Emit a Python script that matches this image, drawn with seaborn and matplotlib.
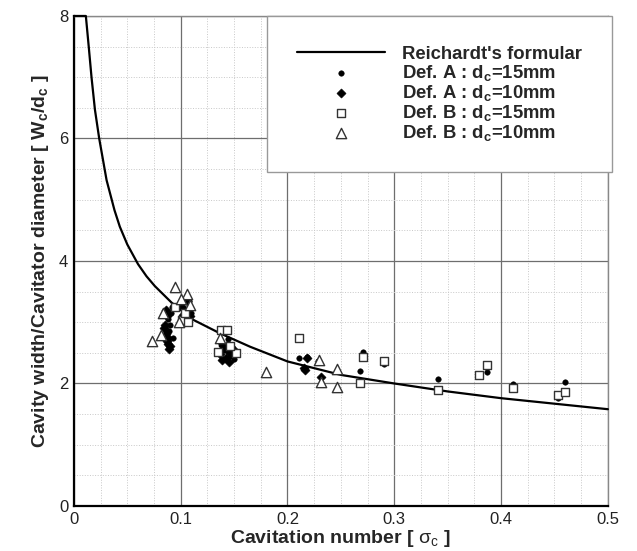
import numpy as np
import pandas as pd
import matplotlib
matplotlib.use("Agg")
import matplotlib.pyplot as plt
from matplotlib.ticker import MultipleLocator
import seaborn as sns

# Reichardt curve
curve_sigma = [0.0, 0.0112, 0.014, 0.0165, 0.0197, 0.0237, 0.0306, 0.038, 0.043, 0.050,
               0.060, 0.068, 0.0758, 0.0915, 0.1117, 0.1367, 0.165, 0.200, 0.250,
               0.300, 0.350, 0.400, 0.450, 0.500]
curve_ratio = [8.0, 8.0, 7.48, 7.0, 6.47, 6.0, 5.32, 4.83, 4.56, 4.27,
               3.95, 3.75, 3.59, 3.32, 3.04, 2.82, 2.60, 2.36, 2.14,
               2.00, 1.87, 1.76, 1.67, 1.58]

# Def. A, dc = 15mm (filled circles)
a15_sigma = [0.088, 0.090, 0.091, 0.089, 0.092, 0.093, 0.100, 0.103, 0.105, 0.108, 0.110,
             0.138, 0.141, 0.144, 0.146, 0.148, 0.150, 0.211, 0.218, 0.229, 0.268, 0.271,
             0.290, 0.3405, 0.3795, 0.387, 0.4114, 0.4535, 0.4597]
a15_ratio = [3.05, 2.95, 3.15, 2.85, 3.25, 2.75, 3.30, 3.20, 3.10, 3.35, 3.15,
             2.65, 2.55, 2.72, 2.45, 2.60, 2.40, 2.41, 2.44, 2.36, 2.21, 2.52,
             2.31, 2.07, 2.13, 2.18, 1.99, 1.77, 2.02]

# Def. A, dc = 10mm (filled diamonds)
a10_sigma = [0.085, 0.086, 0.087, 0.088, 0.089, 0.087, 0.086, 0.090, 0.084, 0.088,
             0.101, 0.104, 0.106, 0.109, 0.102,
             0.137, 0.139, 0.142, 0.143, 0.145, 0.147, 0.140, 0.150,
             0.2185, 0.2154, 0.216, 0.231]
a10_ratio = [2.95, 2.80, 2.70, 2.65, 2.57, 3.10, 3.20, 2.62, 2.90, 2.75,
             3.25, 3.05, 3.35, 3.10, 3.12,
             2.48, 2.38, 2.42, 2.55, 2.35, 2.50, 2.62, 2.55,
             2.41, 2.25, 2.22, 2.10]

# Def. B, dc = 15mm (open squares)
b15_sigma = [0.095, 0.101, 0.107, 0.104, 0.138, 0.1436, 0.135, 0.152, 0.146, 0.211,
             0.268, 0.271, 0.290, 0.3405, 0.3795, 0.387, 0.4114, 0.4535, 0.4597]
b15_ratio = [3.25, 3.04, 3.01, 3.15, 2.87, 2.88, 2.52, 2.49, 2.62, 2.74,
             2.01, 2.43, 2.36, 1.89, 2.14, 2.30, 1.92, 1.81, 1.86]

# Def. B, dc = 10mm (open triangles)
b10_sigma = [0.0727, 0.082, 0.083, 0.0946, 0.1055, 0.1086, 0.098, 0.100, 0.137,
             0.180, 0.2297, 0.231, 0.2466, 0.2466]
b10_ratio = [2.70, 2.79, 3.15, 3.57, 3.46, 3.28, 3.00, 3.38, 2.75,
             2.18, 2.38, 2.03, 2.23, 1.94]

sns.set_style("white")
plt.rcParams['font.family'] = ['Liberation Sans', 'DejaVu Sans']
plt.rcParams['mathtext.fontset'] = 'custom'
plt.rcParams['mathtext.rm'] = 'Liberation Sans'
plt.rcParams['mathtext.it'] = 'Liberation Sans:italic'
plt.rcParams['mathtext.bf'] = 'Liberation Sans:bold'

fig = plt.figure(figsize=(6.37, 5.51), dpi=100)
ax = fig.add_axes([0.116, 0.0817, 0.8383, 0.8893])

sns.lineplot(x=curve_sigma, y=curve_ratio, color='black', linewidth=1.6, sort=False,
             estimator=None, label="Reichardt's formular", ax=ax, zorder=3, clip_on=False)
sns.scatterplot(x=a15_sigma, y=a15_ratio, marker='o', s=16, color='black', edgecolor='black',
                label=r'Def. A : d$_\mathbf{c}$=15mm', ax=ax, zorder=4)
sns.scatterplot(x=a10_sigma, y=a10_ratio, marker='D', s=22, color='black', edgecolor='black',
                label=r'Def. A : d$_\mathbf{c}$=10mm', ax=ax, zorder=4)
sns.scatterplot(x=b15_sigma, y=b15_ratio, marker='s', s=34, facecolor='white', edgecolor='#333333',
                linewidth=1.0, label=r'Def. B : d$_\mathbf{c}$=15mm', ax=ax, zorder=4)
sns.scatterplot(x=b10_sigma, y=b10_ratio, marker='^', s=55, facecolor='white', edgecolor='#333333',
                linewidth=1.0, label=r'Def. B : d$_\mathbf{c}$=10mm', ax=ax, zorder=4)

ax.set_xlim(0, 0.5)
ax.set_ylim(0, 8)
ax.xaxis.set_minor_locator(MultipleLocator(0.025))
ax.yaxis.set_major_locator(MultipleLocator(2))
ax.yaxis.set_minor_locator(MultipleLocator(0.5))
ax.set_xticks(np.arange(0, 0.51, 0.1))
ax.set_xticklabels(['0', '0.1', '0.2', '0.3', '0.4', '0.5'])

ax.grid(which='major', color='#6e6e6e', linewidth=0.9, linestyle='-')
ax.grid(which='minor', color='#c8c8c8', linewidth=0.7, linestyle=':')
ax.set_axisbelow(True)

ax.tick_params(which='major', direction='in', length=5, width=1.2, labelsize=12, pad=4,
               colors='black', labelcolor='#222222')
ax.tick_params(which='minor', direction='in', length=2.5, width=0.8, colors='black')
ax.tick_params(top=False, right=False, which='both')

for side in ['left', 'bottom']:
    ax.spines[side].set_color('black')
    ax.spines[side].set_linewidth(1.6)
for side in ['top', 'right']:
    ax.spines[side].set_color('#888888')
    ax.spines[side].set_linewidth(1.0)

ax.set_xlabel(r'Cavitation number [ $\mathrm{\sigma_c}$ ]', fontsize=14, fontweight='bold', labelpad=1)
ax.set_ylabel(r'Cavity width/Cavitator diameter [ W$_\mathbf{c}$/d$_\mathbf{c}$ ]', fontsize=14,
              fontweight='bold', labelpad=6)

leg = ax.legend(loc='upper right', bbox_to_anchor=(1.007, 1.0), frameon=True, fancybox=False,
                edgecolor='#999999', framealpha=1, borderpad=1.6, handlelength=4.8,
                handletextpad=0.9, labelspacing=0.0, borderaxespad=0,
                prop={'weight': 'bold', 'size': 13.3})
leg.get_frame().set_linewidth(1.0)

fig.savefig('out.png', dpi=100)
